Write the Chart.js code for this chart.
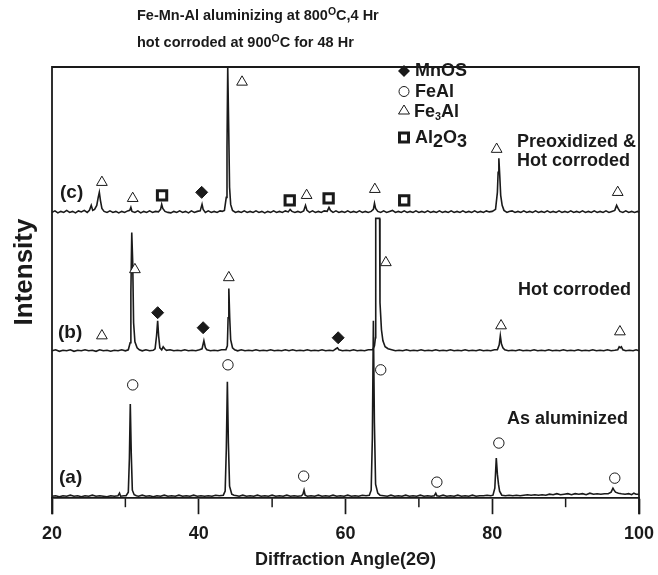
<!DOCTYPE html>
<html lang="en">
<head>
<meta charset="UTF-8">
<title>Fe-Mn-Al aluminizing XRD</title>
<script src="https://cdn.jsdelivr.net/npm/chart.js@4.4.1/dist/chart.umd.min.js"></script>
<style>
  html, body { margin: 0; padding: 0; background: #fff; }
</style>
</head>
<body>
<canvas id="xrd" width="658" height="575"></canvas>
<script>
// diffraction angle ticks (2 theta)
var angleTicks = [20, 40, 60, 80, 100];
var minorTicks = [30, 50, 70, 90];

// traces: [angle, intensity], intensity is stacked (a) low, (c) high
var traceA = [
  [20,2],[20.5,2.5],[21,1.5],[21.5,2.5],[22,2],[22.5,3],[23,2],[23.5,2.5],[24,1.5],[24.5,2.5],[25,2],[25.5,3],
  [26,2],[26.5,2.5],[27,2],[27.5,1.5],[28,2.5],[28.5,2],[29,2.5],[29.2,5],[29.35,2],[29.8,2.5],
  [30.1,2.5],[30.4,6],[30.55,40],[30.67,94],[30.8,45],[30.95,8],[31.2,3.5],[31.5,2.5],[31.8,2],[32.3,3],
  [32.8,2],[33.3,2.5],[33.8,1.5],[34.3,2.5],[34.8,2],[35.3,3],[35.8,2],[36.3,2.5],[36.8,2],[37.3,3],[37.8,2],
  [38.3,2.5],[38.8,2],[39.3,3],[39.8,2],[40.3,2.5],[40.8,2],[41.3,2.5],[41.8,2],[42.3,3],[42.8,2.5],
  [43.35,3],[43.6,7],[43.76,50],[43.9,116],[44.04,55],[44.2,12],[44.5,4],[44.8,3],[45.2,2.5],[45.5,2],[46,3],
  [46.5,2],[47,2.5],[47.5,2],[48,3],[48.5,2],[49,2.5],[49.5,2],[50,3],[50.5,2],[51,2.5],[51.5,2],[52,3],
  [52.5,2],[53,2.5],[53.5,2],[54,2.5],[54.2,4],[54.35,8],[54.5,3],[54.8,2],[55.3,2.5],[55.8,2],[56.3,3],
  [56.8,2],[57.3,2.5],[57.8,2],[58.3,3],[58.8,2],[59.3,2.5],[59.8,2],[60.3,3],[60.8,2],[61.3,2.5],[61.8,2],
  [62.3,3],[62.8,2.5],[63.25,3],[63.5,8],[63.66,60],[63.8,177],[63.94,75],[64.1,14],[64.4,5],[64.7,3],
  [65.2,2.5],[65.7,2],[66.2,3],[66.7,2],[67.2,2.5],[67.7,2],[68.2,3],[68.7,2],[69.2,2.5],[69.7,2],[70.2,3],
  [70.7,2],[71.2,2.5],[71.7,2],[72.1,2.5],[72.3,5],[72.45,2.5],[72.8,2],[73.3,3],[73.8,2],[74.3,2.5],
  [74.8,2],[75.3,3],[75.8,2],[76.3,2.5],[76.8,2],[77.3,3],[77.8,2],[78.3,2.5],[78.8,2.5],[79.3,3],
  [79.8,2.5],[80.1,3],[80.35,10],[80.55,40],[80.7,24],[80.85,14],[81,7],[81.3,3],[81.8,2.5],[82.3,3],
  [82.8,2.5],[83.3,3],[83.8,2.5],[84.3,3],[84.8,3.5],[85.3,3],[85.8,3.5],[86.3,3],[86.8,3.5],[87.3,3],
  [87.8,4],[88.3,3.5],[88.8,4.5],[89.3,3.5],[89.8,4],[90.3,4.5],[90.8,3.5],[91.3,4.5],[91.8,4],[92.3,4.5],
  [92.8,3.5],[93.3,5],[93.8,4],[94.3,4.5],[94.8,4],[95.3,4.5],[95.8,4.5],[96.2,6],[96.45,10],[96.6,8],
  [96.8,6],[97.2,5],[97.6,4.5],[98.1,4],[98.6,4.5],[99,3.5],[99.3,5],[99.6,4],[100,4]
];

var traceB = [
  [20,147],[20.5,148],[21,146.5],[21.5,147.5],[22,147],[22.5,148],[23,146.5],[23.5,147.5],[24,147],[24.5,148],
  [25,147],[25.5,147.5],[26,146.5],[26.5,148],[27,147],[27.5,147.5],[28,146.5],[28.5,147.5],[29,147],[29.5,148],
  [30,147],[30.4,148],[30.65,155],[30.75,205],[30.87,265],[31,235],[31.12,175],[31.3,156],[31.6,150],
  [31.9,148],[32.3,147],[32.8,148],[33.3,147],[33.8,147.5],[34.05,149],[34.25,162],[34.4,177],[34.53,162],
  [34.7,150],[34.95,148],[35.15,151],[35.35,149],[35.6,147.5],[36.1,148],[36.6,147],[37.1,147.5],[37.6,147],
  [38.1,148],[38.6,147],[39.1,147.5],[39.6,147],[40.1,148],[40.45,149],[40.7,157],[40.9,150],[41.1,148],
  [41.6,147],[42.1,147.5],[42.6,147],[43.1,148],[43.7,148],[43.9,152],[44,180],[44.1,209],[44.22,180],
  [44.35,158],[44.6,150],[44.9,148],[45.3,147],[45.8,148],[46.3,147],[46.8,147.5],[47.3,147],[47.8,148],
  [48.3,147],[48.8,147.5],[49.3,147],[49.8,148],[50.3,147],[50.8,147.5],[51.3,147],[51.8,148],[52.3,147],
  [52.8,148],[53.3,147],[53.8,147.5],[54.3,147],[54.8,148],[55.3,147],[55.8,147.5],[56.3,147],[56.8,148],
  [57.3,147],[57.8,147.5],[58.3,147],[58.7,149],[58.9,150],[59.1,148],[59.6,147],[60.1,147.5],[60.6,147],
  [61.1,148],[61.6,147],[62.1,147.5],[62.6,147],[63.1,148],[63.7,148],[63.95,152],[64.08,160],[64.12,279],
  [64.65,279],[64.7,195],[64.9,168],[65.1,157],[65.4,151],[65.8,149],[66.3,148],[66.8,147],[67.3,147.5],
  [67.8,147],[68.3,148],[68.8,147],[69.3,147.5],[69.8,147],[70.3,148],[70.8,147],[71.3,147.5],[71.8,147],
  [72.3,148],[72.8,147],[73.3,147.5],[73.8,147],[74.3,148],[74.8,147],[75.3,147.5],[75.8,147],[76.3,148],
  [76.8,147],[77.3,147.5],[77.8,147],[78.3,148],[78.8,147],[79.3,147.5],[79.8,147],[80.3,148],[80.7,148],
  [80.95,153],[81.1,162],[81.25,154],[81.45,150],[81.7,148],[82.2,147],[82.7,147.5],[83.2,147],[83.7,148],
  [84.2,147],[84.7,147.5],[85.2,147],[85.7,148],[86.2,147],[86.7,147.5],[87.2,147],[87.7,148],[88.2,147],
  [88.7,147.5],[89.2,147],[89.7,148],[90.2,147],[90.7,147.5],[91.2,147],[91.7,148],[92.2,147],[92.7,147.5],
  [93.2,147],[93.7,148],[94.2,147],[94.7,147.5],[95.2,147],[95.7,148],[96.2,147],[96.7,147.5],[97.1,148],
  [97.3,151],[97.45,150],[97.6,151],[97.8,148],[98.2,147],[98.7,147.5],[99.2,147],[99.6,148],[100,147]
];

var traceC = [
  [20,285],[20.4,286.5],[20.8,284.5],[21.2,286],[21.6,285],[22,287],[22.4,285],[22.8,286],[23.2,284.5],
  [23.6,286.5],[24,285.5],[24.4,287],[24.8,285],[25.1,287],[25.35,292],[25.55,287],[25.8,288],[26.1,292],
  [26.3,300],[26.45,305],[26.6,297],[26.8,289],[27.1,286],[27.5,285],[27.9,286.5],[28.3,285],[28.7,286],
  [29.1,284.5],[29.5,286],[29.9,285],[30.3,286.5],[30.6,287],[30.75,290],[30.9,286],[31.3,285],[31.7,286.5],
  [32.1,284.5],[32.5,286],[32.9,285],[33.3,286.5],[33.7,285],[34.1,286],[34.5,285.5],[34.8,288],[34.95,293],
  [35.1,289],[35.4,286],[35.8,285],[36.2,284.5],[36.6,286],[37,285],[37.4,286.5],[37.8,285],[38.2,286],
  [38.6,284.5],[39,286.5],[39.4,285],[39.8,286],[40.2,286.5],[40.45,293],[40.6,288],[40.9,285],[41.3,286.5],
  [41.7,285],[42.1,286],[42.5,285],[42.9,286.5],[43.2,286],[43.5,287],[43.75,300],[43.85,350],[43.95,430],
  [44.08,370],[44.2,310],[44.35,293],[44.6,287],[45,285],[45.4,286],[45.8,285],[46.2,286.5],[46.6,285],
  [47,286],[47.4,285],[47.8,286.5],[48.2,285],[48.6,286],[49,284.5],[49.4,286],[49.8,285],[50.2,286.5],
  [50.6,285],[51,286],[51.4,285],[51.8,286.5],[52.2,285.5],[52.45,288],[52.7,286],[53.1,285],[53.5,286],
  [53.9,285],[54.3,286.5],[54.55,292],[54.75,287],[55.1,285],[55.5,286.5],[55.9,285],[56.3,286],[56.7,285],
  [57.1,286.5],[57.5,286],[57.75,290],[57.95,287],[58.3,285],[58.7,286.5],[59.1,285],[59.5,286],[59.9,285],
  [60.3,286.5],[60.7,285],[61.1,286],[61.5,285],[61.9,286.5],[62.3,285],[62.7,286],[63.1,285],[63.5,286],
  [63.8,288],[63.95,294],[64.1,289],[64.4,286],[64.8,285],[65.2,286.5],[65.6,285],[66,286],[66.4,287],
  [66.8,285],[67.2,286],[67.6,285],[68,286.5],[68.4,285],[68.8,286],[69.2,285],[69.6,286.5],[70,285],
  [70.4,286],[70.8,285],[71.2,286.5],[71.6,285],[72,286],[72.4,285],[72.8,286.5],[73.2,285],[73.6,286],
  [74,285],[74.4,286.5],[74.8,285],[75.2,286],[75.6,285],[76,286.5],[76.4,285],[76.8,286],[77.2,285],
  [77.6,286.5],[78,285],[78.4,286],[78.8,285],[79.2,286.5],[79.6,285.5],[80,286],[80.45,288],[80.7,305],
  [80.8,325],[80.9,339],[81.02,322],[81.15,302],[81.35,292],[81.6,287],[82,285],[82.3,286],[82.7,286.5],
  [83.1,285],[83.5,286],[83.9,285],[84.3,286.5],[84.7,285],[85.1,286],[85.5,285],[85.9,286.5],[86.3,285],
  [86.7,286],[87.1,285],[87.5,286.5],[87.9,285],[88.3,286],[88.7,285],[89.1,286.5],[89.5,285],[89.9,286],
  [90.3,285],[90.7,286.5],[91.1,285],[91.5,286],[91.9,285],[92.3,286.5],[92.7,285],[93.1,286],[93.5,285],
  [93.9,286.5],[94.3,285],[94.7,286],[95.1,285],[95.5,286.5],[95.9,285],[96.3,286],[96.7,287],[96.95,292],
  [97.15,289],[97.4,286],[97.8,285],[98.2,286.5],[98.6,285],[99,286],[99.4,285],[99.8,286],[100,285]
];

// phase markers: [angle, height]
var feAlMarks  = [[31,113],[43.98,133],[54.3,22],[64.8,128],[72.45,16],[80.9,55],[96.7,20]];
var fe3AlMarks = [[26.8,162],[31.3,228],[44.1,220],[65.5,235],[81.2,172],[97.4,166],
                  [26.8,315],[31,299],[45.9,415],[54.7,302],[64,308],[80.6,348],[97.1,305]];
var mnosMarks  = [[34.4,185],[40.6,170],[59,160],[40.4,305]];
var al2o3Marks = [[35,302],[52.4,297],[57.7,299],[68,297]];

var FONT = '"Liberation Sans", Arial, Helvetica, sans-serif';
var INK = '#1a1a1a';

function pts(arr) {
  return arr.map(function (p) { return { x: p[0], y: p[1] }; });
}

// draw text made of pieces, some raised or lowered
function richText(ctx, x, y, parts, size) {
  parts.forEach(function (p) {
    var s = size * (p.scale || 1);
    ctx.font = 'bold ' + s + 'px ' + FONT;
    ctx.fillText(p.t, x, y + (p.dy || 0) * size);
    x += ctx.measureText(p.t).width;
  });
}

var decor = {
  id: 'decor',
  afterDraw: function (chart) {
    var ctx = chart.ctx;
    var a = chart.chartArea;
    var xs = chart.scales.x;
    ctx.save();

    // frame: top, sides running down to the tick ends
    ctx.strokeStyle = INK;
    ctx.lineWidth = 1.8;
    ctx.beginPath();
    ctx.moveTo(a.left, a.bottom + 16);
    ctx.lineTo(a.left, a.top);
    ctx.lineTo(a.right, a.top);
    ctx.lineTo(a.right, a.bottom + 16);
    ctx.stroke();

    // minor ticks
    ctx.lineWidth = 1.5;
    minorTicks.forEach(function (v) {
      var px = xs.getPixelForValue(v);
      ctx.beginPath();
      ctx.moveTo(px, a.bottom);
      ctx.lineTo(px, a.bottom + 9);
      ctx.stroke();
    });

    ctx.fillStyle = INK;
    ctx.textBaseline = 'middle';
    ctx.textAlign = 'left';

    // title
    richText(ctx, 137, 16, [{ t: 'Fe-Mn-Al aluminizing at 800' }, { t: 'O', scale: 0.72, dy: -0.25 }, { t: 'C,4 Hr' }], 14.5);
    richText(ctx, 137, 43, [{ t: 'hot corroded at 900' }, { t: 'O', scale: 0.72, dy: -0.25 }, { t: 'C for 48 Hr' }], 14.5);

    // y title
    ctx.save();
    ctx.translate(25, 272);
    ctx.rotate(-Math.PI / 2);
    ctx.textAlign = 'center';
    ctx.font = 'bold 26px ' + FONT;
    ctx.fillText('Intensity', 0, 0);
    ctx.restore();

    // trace tags
    ctx.font = 'bold 19px ' + FONT;
    ctx.fillText('(c)', 60, 193);
    ctx.fillText('(b)', 58, 333);
    ctx.fillText('(a)', 59, 478);

    ctx.font = 'bold 18px ' + FONT;
    ctx.fillText('Preoxidized &', 517, 142);
    ctx.fillText('Hot corroded', 517, 161);
    ctx.fillText('Hot corroded', 518, 290);
    ctx.fillText('As aluminized', 507, 419);

    // legend
    var lx = 404;
    ctx.beginPath();
    ctx.moveTo(lx, 65); ctx.lineTo(lx + 6, 71); ctx.lineTo(lx, 77); ctx.lineTo(lx - 6, 71);
    ctx.closePath();
    ctx.fill();
    ctx.lineWidth = 1;
    ctx.beginPath();
    ctx.arc(lx, 91.5, 5, 0, Math.PI * 2);
    ctx.stroke();
    ctx.beginPath();
    ctx.moveTo(lx, 105); ctx.lineTo(lx + 5.5, 114); ctx.lineTo(lx - 5.5, 114);
    ctx.closePath();
    ctx.stroke();
    ctx.lineWidth = 3;
    ctx.strokeRect(lx - 4.5, 133, 9, 9);

    richText(ctx, 415, 71, [{ t: 'MnOS' }], 18);
    richText(ctx, 415, 92, [{ t: 'FeAl' }], 18);
    richText(ctx, 414, 112, [{ t: 'Fe' }, { t: '3', scale: 0.6, dy: 0.3 }, { t: 'Al' }], 18);
    richText(ctx, 415, 138, [{ t: 'Al' }, { t: '2', dy: 0.2 }, { t: 'O' }, { t: '3', dy: 0.2 }], 18);

    ctx.restore();
  }
};

function traceSet(arr) {
  return {
    data: pts(arr),
    showLine: true,
    borderColor: INK,
    borderWidth: 1.6,
    pointRadius: 0,
    tension: 0,
    clip: false
  };
}

function markSet(arr, style, r, bw, fill) {
  return {
    data: pts(arr),
    showLine: false,
    pointStyle: style,
    pointRadius: r,
    pointBorderWidth: bw,
    pointBorderColor: INK,
    pointBackgroundColor: fill,
    clip: false
  };
}

new Chart(document.getElementById('xrd'), {
  type: 'scatter',
  data: {
    datasets: [
      markSet(feAlMarks, 'circle', 5.2, 1, '#fff'),
      markSet(fe3AlMarks, 'triangle', 6.2, 1, '#fff'),
      markSet(mnosMarks, 'rectRot', 6, 1, INK),
      markSet(al2o3Marks, 'rect', 6.6, 3, '#fff'),
      traceSet(traceC),
      traceSet(traceB),
      traceSet(traceA)
    ]
  },
  options: {
    responsive: false,
    animation: false,
    layout: { padding: { left: 52, right: 19, top: 67, bottom: 0 } },
    plugins: { legend: { display: false }, tooltip: { enabled: false } },
    scales: {
      x: {
        type: 'linear',
        min: 20,
        max: 100,
        afterBuildTicks: function (s) { s.ticks = angleTicks.map(function (v) { return { value: v }; }); },
        // small padding so the "100" label does not push the plot edge in; line height sets the gap
        ticks: { color: INK, font: { family: FONT, size: 18, weight: 'bold', lineHeight: 1.9 }, padding: 3 },
        grid: { drawOnChartArea: false, drawTicks: true, tickLength: 16, tickColor: INK, tickWidth: 1.7 },
        border: { color: INK, width: 1.8 },
        title: {
          display: true,
          text: 'Diffraction Angle(2\u0398)',
          color: INK,
          font: { family: FONT, size: 18, weight: 'bold' },
          padding: { top: -5, bottom: 4 }
        }
      },
      y: { display: false, min: 0, max: 430 }
    }
  },
  plugins: [decor]
});
</script>
</body>
</html>
